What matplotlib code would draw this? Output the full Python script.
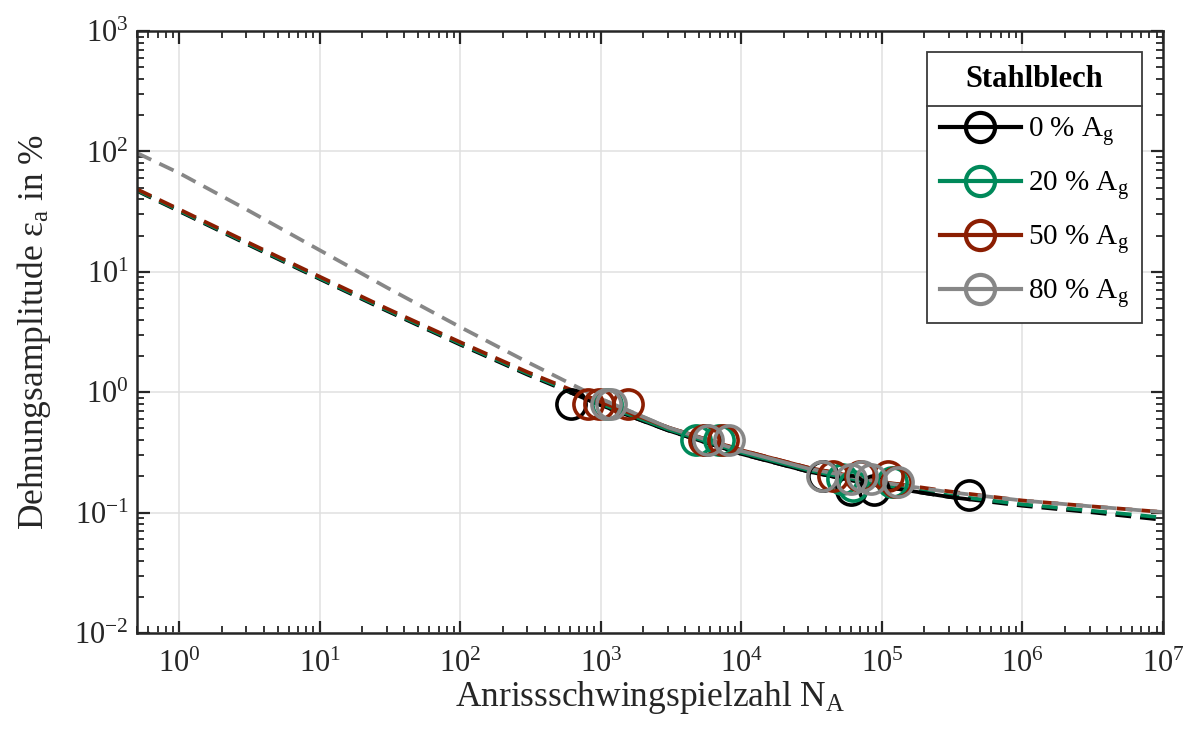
import numpy as np
import matplotlib
matplotlib.use('Agg')
import matplotlib.pyplot as plt
from matplotlib.lines import Line2D
from matplotlib.ticker import FixedLocator, LogLocator, NullFormatter

# ---------------- data ----------------
labels = ['0 % A$_\\mathrm{g}$', '20 % A$_\\mathrm{g}$', '50 % A$_\\mathrm{g}$', '80 % A$_\\mathrm{g}$']
colors = ['#000000', '#00895a', '#8b1e02', '#878787']

# fitted strain-life curves, read at these cycle numbers
N_curve = [0.5, 1, 3, 10, 30, 100, 300, 1000, 3000, 1e4, 3e4, 1e5, 3e5, 1e6, 3e6, 1e7]
eps_curve_0 = [47.0, 31.8, 17.1, 8.71, 4.74, 2.48, 1.40, 0.78, 0.482, 0.307, 0.219, 0.165, 0.135, 0.114, 0.101, 0.087]
eps_curve_20 = [47.6, 32.3, 17.4, 8.86, 4.83, 2.53, 1.43, 0.80, 0.492, 0.315, 0.225, 0.170, 0.139, 0.117, 0.104, 0.091]
eps_curve_50 = [48.5, 33.0, 17.8, 9.10, 4.95, 2.60, 1.47, 0.83, 0.510, 0.330, 0.236, 0.180, 0.150, 0.126, 0.113, 0.101]
eps_curve_80 = [97.0, 66.0, 33.0, 15.1, 7.40, 3.47, 1.78, 0.88, 0.510, 0.325, 0.232, 0.178, 0.148, 0.126, 0.113, 0.101]

# tested range (solid part of each curve)
N_range_0 = [614, 415000]
N_range_20 = [1110, 120000]
N_range_50 = [810, 130000]
N_range_80 = [1090, 130000]

# test results: crack initiation cycles and strain amplitude
N_test_0 = [614, 5600, 38000, 60000, 88000, 415000]
eps_test_0 = [0.8, 0.4, 0.2, 0.155, 0.155, 0.14]
N_test_20 = [1110, 4750, 6900, 52000, 62000, 118000]
eps_test_20 = [0.8, 0.4, 0.4, 0.19, 0.165, 0.18]
N_test_50 = [810, 970, 1560, 5400, 7400, 45000, 70000, 110000, 125000]
eps_test_50 = [0.8, 0.8, 0.8, 0.4, 0.4, 0.2, 0.2, 0.2, 0.18]
N_test_80 = [1090, 1180, 5800, 8100, 37500, 60000, 72000, 84000, 130000]
eps_test_80 = [0.8, 0.8, 0.4, 0.4, 0.2, 0.19, 0.2, 0.19, 0.18]

x_ticks = [1e0, 1e1, 1e2, 1e3, 1e4, 1e5, 1e6, 1e7]
y_ticks = [1e-2, 1e-1, 1e0, 1e1, 1e2, 1e3]

curves = [eps_curve_0, eps_curve_20, eps_curve_50, eps_curve_80]
ranges = [N_range_0, N_range_20, N_range_50, N_range_80]
tests_N = [N_test_0, N_test_20, N_test_50, N_test_80]
tests_eps = [eps_test_0, eps_test_20, eps_test_50, eps_test_80]

# ---------------- style ----------------
FONT = 'Liberation Serif'
plt.rcParams['font.family'] = [FONT, 'DejaVu Serif']
plt.rcParams['mathtext.fontset'] = 'custom'
plt.rcParams['mathtext.rm'] = FONT
plt.rcParams['mathtext.it'] = FONT + ':italic'
plt.rcParams['mathtext.bf'] = FONT + ':bold'
FS_TICK = 22
FS_XL = 25.5
FS_YL = 25.5
FS_LEG = 21
TXT = '#262626'

fig = plt.figure(figsize=(11.91, 7.42), dpi=100)
ax = fig.add_axes([137 / 1191, 1 - 633 / 742, (1163 - 137) / 1191, (633 - 31) / 742])

lw = 2.7
ms = 21
mew = 2.6
dash = (0, (4.2, 2.4))
handles = []
for i in range(4):
    Nc = np.array(N_curve)
    ec = np.array(curves[i])
    lo, hi = ranges[i]
    ax.plot(Nc, ec, ls=dash, color=colors[i], lw=lw, zorder=2 + i * 0.1)
    # solid segment in the tested range
    inside = (Nc > lo) & (Nc < hi)
    lx = np.log10(Nc)
    ly = np.log10(ec)
    ylo = 10 ** np.interp(np.log10(lo), lx, ly)
    yhi = 10 ** np.interp(np.log10(hi), lx, ly)
    sx = np.concatenate([[lo], Nc[inside], [hi]])
    sy = np.concatenate([[ylo], ec[inside], [yhi]])
    ax.plot(sx, sy, '-', color=colors[i], lw=lw, zorder=3 + i * 0.1)
for i in range(4):
    ax.plot(tests_N[i], tests_eps[i], 'o', ms=ms, mfc='none', mec=colors[i], mew=mew, zorder=5 + i * 0.1)
    handles.append(Line2D([], [], color=colors[i], lw=3.0, marker='o', ms=ms, mfc='none',
                          mec=colors[i], mew=3.0))

ax.set_xscale('log')
ax.set_yscale('log')
ax.set_xlim(0.5, 1e7)
ax.set_ylim(1e-2, 1e3)
ax.xaxis.set_major_locator(FixedLocator(x_ticks))
ax.yaxis.set_major_locator(FixedLocator(y_ticks))
ax.xaxis.set_minor_locator(LogLocator(base=10, subs=np.arange(2, 10), numticks=100))
ax.yaxis.set_minor_locator(LogLocator(base=10, subs=np.arange(2, 10), numticks=100))
ax.xaxis.set_minor_formatter(NullFormatter())
ax.yaxis.set_minor_formatter(NullFormatter())

ax.grid(True, which='major', color='#e0e0e0', lw=1.1)
ax.set_axisbelow(True)
ax.tick_params(which='both', direction='in', top=True, right=True, colors=TXT, labelcolor=TXT,
               labelsize=FS_TICK)
ax.tick_params(which='major', length=9, width=1.6)
ax.tick_params(which='minor', length=5, width=1.3)
ax.tick_params(axis='x', pad=12)
ax.tick_params(axis='y', pad=6)
for s in ax.spines.values():
    s.set_color(TXT)
    s.set_linewidth(1.8)

ax.set_xlabel('Anrissschwingspielzahl N$_\\mathrm{A}$', fontsize=FS_XL, color=TXT, labelpad=0)
ax.set_ylabel('Dehnungsamplitude ε$_\\mathrm{a}$ in %', fontsize=FS_YL, color=TXT, labelpad=15)

leg = ax.legend(handles, labels, title='Stahlblech', loc='upper right',
                bbox_to_anchor=(0.9795, 0.965), borderaxespad=0, fontsize=FS_LEG,
                title_fontproperties={'weight': 'bold', 'size': 22, 'family': FONT},
                frameon=True, fancybox=False, edgecolor='#3a3a3a', handlelength=2.75,
                handletextpad=0.25, labelspacing=0.72, borderpad=0.45, framealpha=1)
leg.get_frame().set_linewidth(1.3)
leg.set_zorder(10)

fig.canvas.draw()
r = fig.canvas.get_renderer()
fb = leg.get_frame().get_window_extent(r)
tb = leg.get_title().get_window_extent(r)
ysep = tb.y0 - 12
inv = fig.transFigure.inverted()
(x0, y0) = inv.transform((fb.x0, ysep))
(x1, _) = inv.transform((fb.x1, ysep))
fig.add_artist(Line2D([x0, x1], [y0, y0], color='#3a3a3a', lw=1.3, zorder=20))

fig.savefig('out.png', dpi=100)
